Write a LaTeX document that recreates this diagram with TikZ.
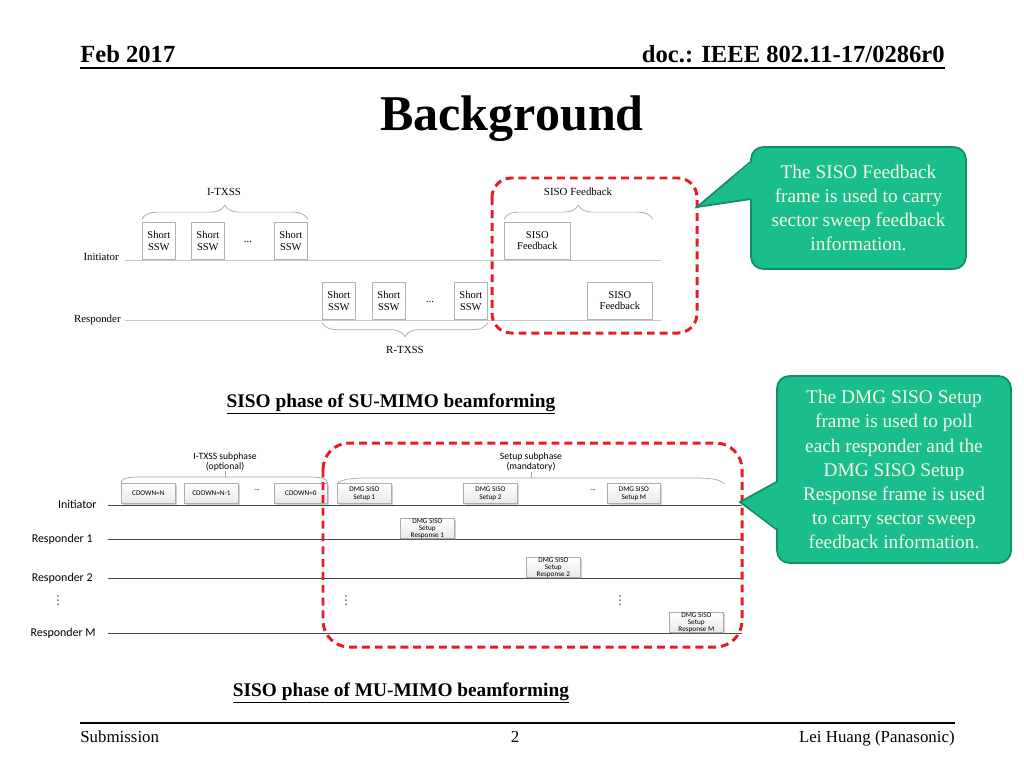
\documentclass[tikz,border=0pt]{standalone}
\usepackage{fontspec}
\setmainfont{Liberation Serif}
\newfontfamily\calibfont{Carlito}
\newfontfamily\dotsfont{DejaVu Sans}
\usepackage{tikz}
\usetikzlibrary{positioning, calc, decorations.pathreplacing, shadows}
\definecolor{notegreen}{RGB}{26,190,140}
\definecolor{noteedge}{RGB}{20,140,104}
\definecolor{notetext}{RGB}{246,246,230}
\definecolor{dashred}{RGB}{232,28,36}
\definecolor{lightline}{RGB}{200,200,200}
\definecolor{boxedge}{RGB}{178,178,178}
\definecolor{darkline}{RGB}{70,70,70}
\tikzset{
  sswbox/.style={rectangle, draw=boxedge, fill=white, anchor=south west,
    inner sep=0pt, align=center, minimum height=0.75cm, minimum width=0.66cm,
    font=\fontsize{6}{6.4}\selectfont, line width=0.4pt},
  framebox/.style={rectangle, draw=gray!65, top color=white, bottom color=gray!18,
    anchor=south west, inner sep=0pt, align=center, minimum height=0.4cm,
    minimum width=1.08cm, font=\calibfont\fontsize{4.1}{4.1}\selectfont,
    line width=0.4pt, drop shadow={shadow xshift=0.7pt, shadow yshift=-0.7pt, opacity=0.35}},
  difont/.style={font=\fontsize{6.2}{6.6}\selectfont, align=center, inner sep=0pt},
  cafont/.style={font=\calibfont\fontsize{6.8}{7}\selectfont, inner sep=0pt},
  vdotfont/.style={font=\dotsfont\fontsize{7}{7}\selectfont, inner sep=0pt, text=darkline},
  subfont/.style={font=\calibfont\fontsize{5.5}{5.3}\selectfont, align=center, inner sep=0pt},
  sbrace/.style={draw=gray!70, line width=0.4pt,
    decorate, decoration={brace, amplitude=8pt, raise=1.5pt}},
  bracket/.style={draw=gray!70, line width=0.4pt},
  timeline/.style={draw=lightline, line width=0.5pt},
  darktime/.style={draw=darkline, line width=0.5pt},
  redzone/.style={draw=dashred, line width=1.7pt, dash pattern=on 4.5pt off 2.8pt},
  note/.style={rectangle, draw=noteedge, fill=notegreen, rounded corners=7pt,
    line width=1pt, text=notetext, align=center, inner sep=2pt,
    font=\fontsize{11}{13.7}\selectfont},
  hdr/.style={font=\bfseries\fontsize{14}{16}\selectfont, inner sep=0pt},
  ftr/.style={font=\fontsize{9.6}{11}\selectfont, inner sep=0pt},
  capt/.style={font=\bfseries\fontsize{11}{13}\selectfont, inner sep=0pt}
}

\begin{document}
\begin{tikzpicture}[x=0.02cm, y=-0.02cm]
  \useasboundingbox (0,0) rectangle (1024,768);

  % Header and title
  \node[hdr, anchor=base west] (date) at (80,62) {Feb 2017};
  \node[hdr, anchor=base east] (docid) at (945,62) {doc.: IEEE 802.11-17/0286r0};
  \draw[line width=1.2pt] (date.base west |- 0,68) -- (docid.base east |- 0,68);
  \node[font=\bfseries\fontsize{28.5}{30}\selectfont, anchor=base, inner sep=0pt] (title) at (512,130) {Background};

  % SU-MIMO: time lines
  \node[difont, anchor=east] (inilbl) at (119,257) {Initiator};
  \node[difont, anchor=east] (reslbl) at (121,320) {Responder};
  \coordinate (ibeg) at (125,260);
  \coordinate (iend) at (661,260);
  \coordinate (rbeg) at (125,320);
  \coordinate (rend) at (661,320);
  \draw[timeline] (ibeg) -- (iend);
  \draw[timeline] (rbeg) -- (rend);

  % SU-MIMO: initiator frames
  \node[sswbox] (issw1) at (142,260) {Short\\SSW};
  \node[sswbox] (issw2) at (191,260) {Short\\SSW};
  \node[difont] (idots) at (248,242) {...};
  \node[sswbox] (issw3) at (274,260) {Short\\SSW};
  \node[sswbox, minimum width=1.32cm] (ifb) at (504,260) {SISO\\Feedback};

  % SU-MIMO: responder frames
  \node[sswbox] (rssw1) at (322,320) {Short\\SSW};
  \node[sswbox] (rssw2) at (372,320) {Short\\SSW};
  \node[difont] (rdots) at (430,302) {...};
  \node[sswbox] (rssw3) at (454,320) {Short\\SSW};
  \node[sswbox, minimum width=1.3cm] (rfb) at (587,320) {SISO\\Feedback};

  % SU-MIMO: braces
  \draw[sbrace] (issw1.north west) -- (issw3.north east);
  \node[difont] (itxss) at (224,192) {I-TXSS};
  \draw[sbrace] (ifb.north west) -- (ifb.north west -| rfb.east);
  \node[difont] (fblbl) at (578,192) {SISO Feedback};
  \draw[sbrace] (rssw3.south east) -- (rssw1.south west);
  \node[difont] (rtxss) at (405,350) {R-TXSS};

  \draw[redzone, rounded corners=11pt] (492,178) rectangle (697,333);
  \node[capt, anchor=base] (sucap) at (391,407) {\underline{SISO phase of SU-MIMO beamforming}};

  % MU-MIMO: time lines
  \node[cafont, anchor=east] (minilbl) at (97,504) {Initiator};
  \node[cafont, anchor=east] (mres1) at (93,539) {Responder 1};
  \node[cafont, anchor=east] (mres2) at (93,578) {Responder 2};
  \node[vdotfont] (mvdots) at (58,601) {⋮};
  \node[cafont, anchor=east] (mresm) at (96,633) {Responder M};
  \foreach \yy/\nm in {505/mi, 539/m1, 578/m2, 633/mm} {
    \coordinate (\nm beg) at (108,\yy);
    \coordinate (\nm end) at (742,\yy);
    \draw[darktime] (\nm beg) -- (\nm end);
  }

  % MU-MIMO: I-TXSS subphase
  \node[framebox] (cdn) at (121,504) {CDOWN=N};
  \node[framebox] (cdn1) at (184,504) {CDOWN=N-1};
  \node[cafont, font=\calibfont\fontsize{4.5}{5}\selectfont] (cdots) at (257,490) {...};
  \node[framebox, minimum width=1.06cm] (cd0) at (274,504) {CDOWN=0};
  \draw[bracket] (cdn.north west) .. controls (121,478) and (128,477) .. (140,477)
    -- (308,477) .. controls (320,477) and (327,478) .. (cd0.north east);
  \draw[bracket] (225,477) -- (225,471);
  \node[subfont] (itxsub) at (225,462) {I-TXSS subphase\\(optional)};

  % MU-MIMO: setup subphase
  \node[framebox] (set1) at (337,504) {DMG SISO\\Setup 1};
  \node[framebox] (set2) at (463,504) {DMG SISO\\Setup 2};
  \node[cafont, font=\calibfont\fontsize{4.5}{5}\selectfont] (sdots) at (593,490) {...};
  \node[framebox, minimum width=1.06cm] (setm) at (607,504) {DMG SISO\\Setup M};
  \node[framebox] (resp1) at (400,539) {DMG SISO\\Setup\\Response 1};
  \node[framebox] (resp2) at (526,578) {DMG SISO\\Setup\\Response 2};
  \node[framebox] (respm) at (669,633) {DMG SISO\\Setup\\Response M};
  \node[vdotfont] (vdl) at (346,601) {⋮};
  \node[vdotfont] (vdr) at (620,601) {⋮};
  \draw[bracket] (set1.north west) .. controls (345,479) .. (362,478)
    -- (700,478) .. controls (717,479) .. (725,484);
  \draw[bracket] (531,478) -- (531,472);
  \node[subfont] (setsub) at (531,462) {Setup subphase\\(mandatory)};

  \draw[redzone, rounded corners=15pt] (323,443) rectangle (742,647);
  \node[capt, anchor=base] (mucap) at (401,696) {\underline{SISO phase of MU-MIMO beamforming}};

  % Callouts
  \node[note, minimum width=4.3cm, minimum height=2.44cm] (fbnote) at (858.5,208)
    {The SISO Feedback\\frame is used to carry\\sector sweep feedback\\information.};
  \coordinate (fbtip) at (697,207);
  \fill[notegreen] (fbtip) -- ($(fbnote.north west)+(2,16)$) -- ($(fbnote.north west)+(2,53)$) -- cycle;
  \draw[noteedge, line width=1pt] ($(fbnote.north west)+(0,16)$) -- (fbtip) -- ($(fbnote.north west)+(0,53)$);

  \node[note, minimum width=4.68cm, minimum height=3.74cm] (setnote) at (894,469.5)
    {The DMG SISO Setup\\frame is used to poll\\each responder and the\\DMG SISO Setup\\Response frame is used\\to carry sector sweep\\feedback information.};
  \coordinate (settip) at (740,502);
  \fill[notegreen] (settip) -- ($(setnote.north west)+(2,107)$) -- ($(setnote.north west)+(2,154)$) -- cycle;
  \draw[noteedge, line width=1pt] ($(setnote.north west)+(0,107)$) -- (settip) -- ($(setnote.north west)+(0,154)$);

  % Footer
  \draw[line width=1pt] (80,723) -- (955,723);
  \node[ftr, anchor=base west] (subm) at (80,742) {Submission};
  \node[ftr, anchor=base] (pgno) at (515,742) {2};
  \node[ftr, anchor=base east] (author) at (955,742) {Lei Huang (Panasonic)};
\end{tikzpicture}
\end{document}
